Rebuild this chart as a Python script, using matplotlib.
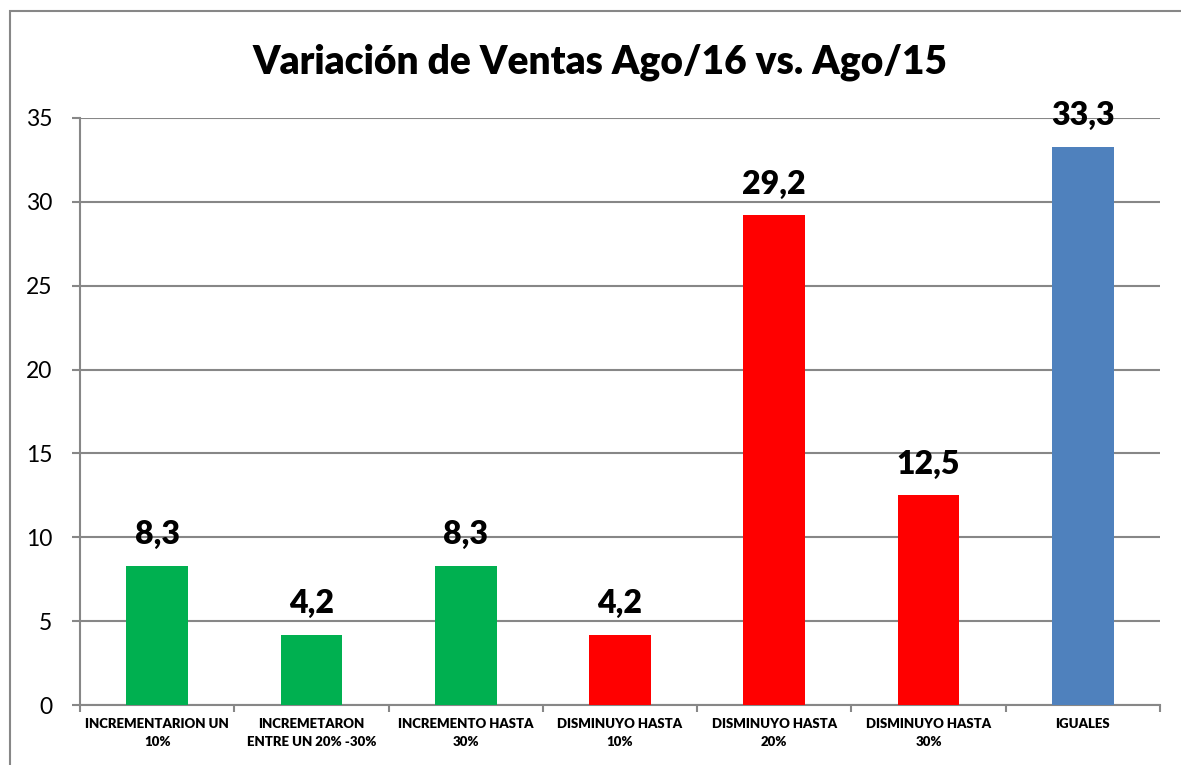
import matplotlib.pyplot as plt
from matplotlib.patches import Rectangle

categorias = ["INCREMENTARION UN\n10%", "INCREMETARON\nENTRE UN 20% -30%",
              "INCREMENTO HASTA\n30%", "DISMINUYO HASTA\n10%",
              "DISMINUYO HASTA\n20%", "DISMINUYO HASTA\n30%", "IGUALES"]
valores = [8.3, 4.2, 8.3, 4.2, 29.2, 12.5, 33.3]
colores = ["#00B050", "#00B050", "#00B050", "#FF0000", "#FF0000", "#FF0000", "#4F81BD"]
yticks = [0, 5, 10, 15, 20, 25, 30, 35]

plt.rcParams['font.family'] = ['Lato', 'DejaVu Sans']
gris = "#878787"

fig = plt.figure(figsize=(11.81, 7.65), dpi=100)
# marco exterior del grafico (cortado a la derecha y abajo)
fig.patches.append(Rectangle((10 / 1181, -0.1), 1.2, 1 - 11 / 765 + 0.1,
                             transform=fig.transFigure, fill=False,
                             edgecolor=gris, linewidth=1.5))
ax = fig.add_axes([80 / 1181, 1 - 705 / 765, (1160 - 80) / 1181, (705 - 118) / 765])

x = list(range(len(valores)))
ax.bar(x, valores, width=0.4, color=colores, zorder=3)
for xi, v in zip(x, valores):
    ax.text(xi, v + 1.0, f"{v:.1f}".replace(".", ","), ha="center", va="bottom",
            fontsize=23, fontweight="heavy", zorder=4)

ax.set_xlim(-0.5, len(valores) - 0.5)
ax.set_ylim(0, 35)
ax.set_yticks(yticks)
ax.yaxis.grid(True, color=gris, linewidth=1.5, zorder=0)
ax.set_xticks(x)
ax.set_xticklabels(categorias, fontsize=9.5, fontweight="heavy", linespacing=1.6)
ax.set_xticks([i - 0.5 for i in range(len(valores) + 1)], minor=True)
ax.tick_params(axis="x", which="major", length=0, pad=9)
ax.tick_params(axis="x", which="minor", length=5, color=gris, width=1.5)
ax.tick_params(axis="y", length=6, color=gris, width=1.5, labelsize=16.5, pad=14)

for s in ["top", "right"]:
    ax.spines[s].set_visible(False)
for s in ["left", "bottom"]:
    ax.spines[s].set_color(gris)
    ax.spines[s].set_linewidth(1.5)

fig.text(600 / 1181, 1 - 62 / 765, "Variación de Ventas Ago/16 vs. Ago/15",
         ha="center", va="center", fontsize=28, fontweight="heavy")

fig.savefig("out.png", dpi=100)
